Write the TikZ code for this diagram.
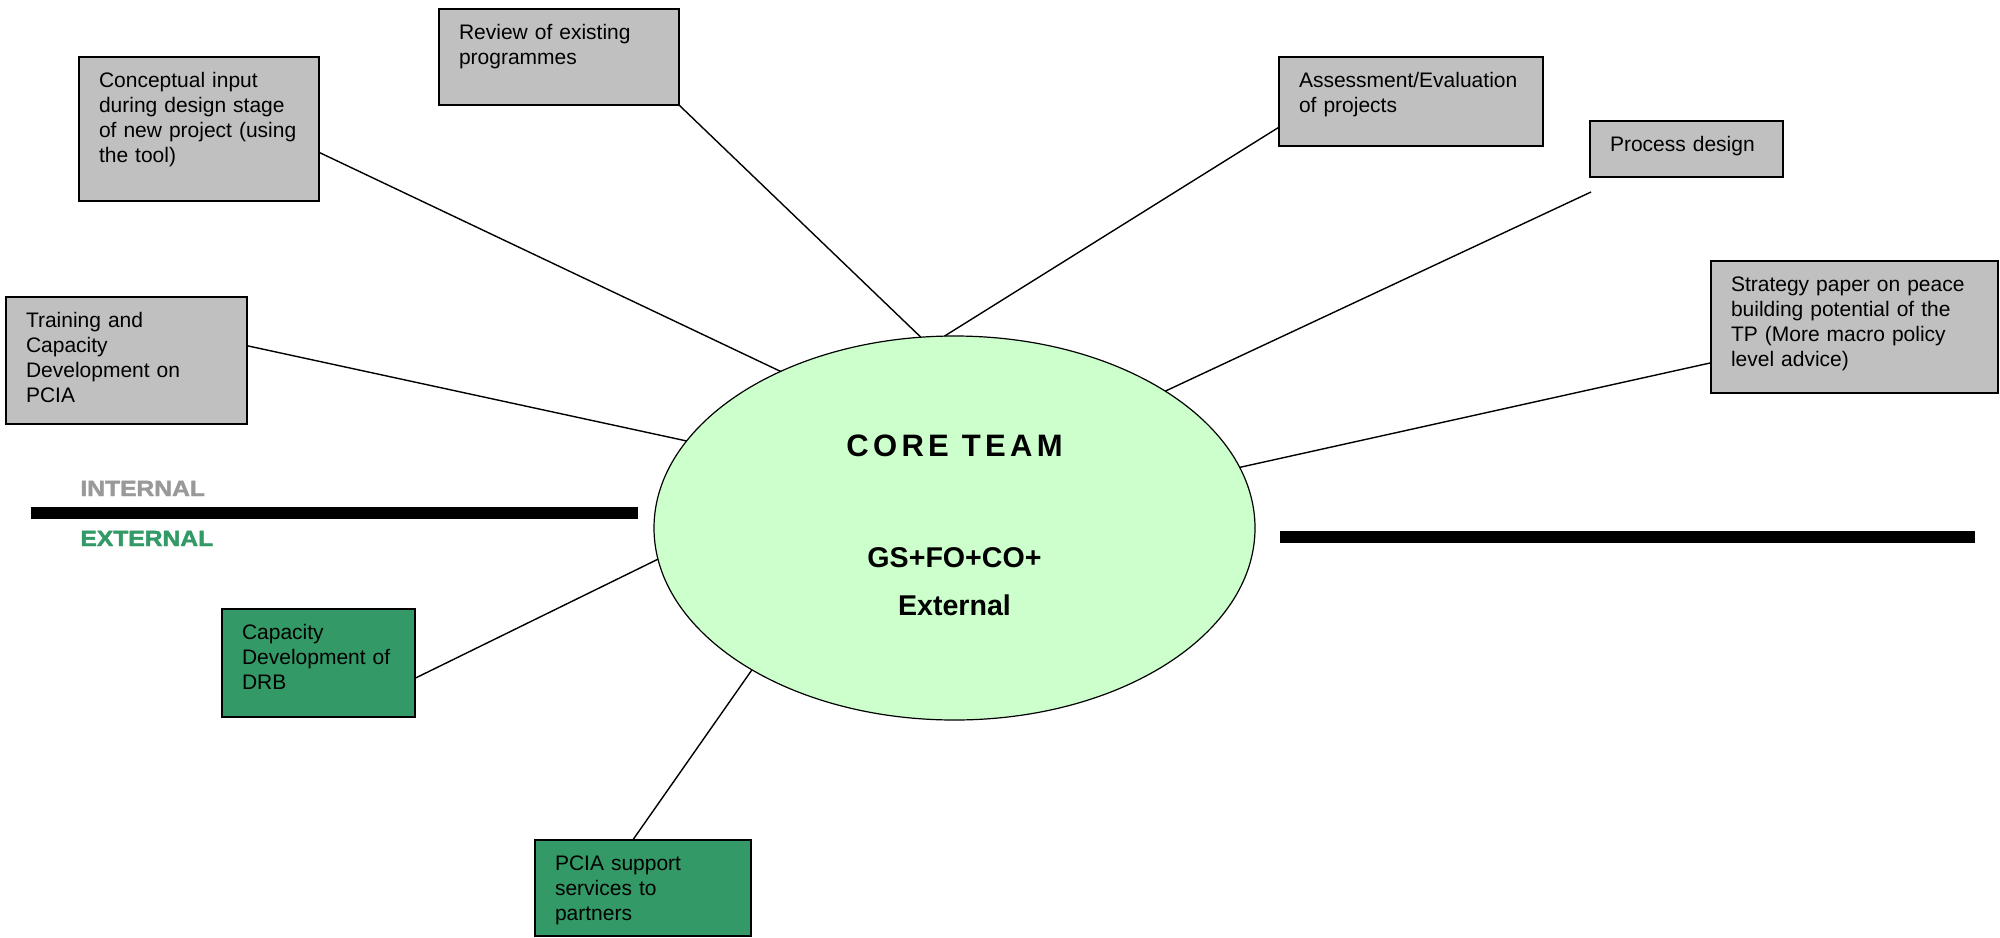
\documentclass[tikz,border=0pt]{standalone}
\usepackage{fontspec}
\setmainfont{Liberation Sans}
\newfontfamily\spacedfont[LetterSpace=14]{Liberation Sans}
\newfontfamily\widefont[FakeStretch=1.12, FakeBold=2]{Liberation Sans}
\usepackage{xcolor}
\usepackage{tikz}
\usetikzlibrary{shapes.geometric}
\definecolor{boxgray}{HTML}{C0C0C0}
\definecolor{teamgreen}{HTML}{339966}
\definecolor{corefill}{HTML}{CCFFCC}
\definecolor{intgray}{HTML}{999999}

\begin{document}
\begin{tikzpicture}[x=0.5pt, y=-0.5pt,
		task/.style={draw, line width=0.9pt, fill=boxgray, anchor=north west, outer sep=0pt,
			inner xsep=10pt, inner ysep=7.5pt, align=left, text height=7.75pt,
			font=\fontsize{10.5}{12.5}\selectfont},
		outreach/.style={task, fill=teamgreen},
		link/.style={line width=0.7pt},
		divider/.style={line width=6pt}]
		\useasboundingbox (0,0) rectangle (2000,937);

		% core team
		\node[ellipse, draw, line width=0.6pt, fill=corefill, minimum width=300.5pt, minimum height=192pt, inner sep=0pt, outer sep=0pt] (core) at (954.5,528) {};
		\node[anchor=base, font=\fontsize{15.5}{18}\spacedfont\bfseries] (coretitle) at (954.5,456) {CORE TEAM};
		\node[anchor=base, font=\fontsize{14.3}{17}\selectfont\bfseries] (coremix) at (954.5,567) {GS+FO+CO+};
		\node[anchor=base, font=\fontsize{14.3}{17}\selectfont\bfseries] (coreext) at (954.5,615) {External};

		% internal tasks
		\node[task, text width=100pt, text depth=25.25pt] (review) at (439,9) {Review of existing\\programmes};
		\node[task, text width=100pt, text depth=49.25pt] (concept) at (79,57) {Conceptual input\\during design stage\\of new project (using\\the tool)};
		\node[task, text width=100.5pt, text depth=40.75pt] (training) at (6,297) {Training and\\Capacity\\Development on\\PCIA};
		\node[task, text width=112pt, text depth=21.75pt] (assess) at (1279,57) {Assessment/Evaluation\\of projects};
		\node[task, text width=76.5pt, text depth=5.25pt] (process) at (1590,121) {Process design};
		\node[task, text width=123.5pt, text depth=43.25pt] (strategy) at (1711,261) {Strategy paper on peace\\building potential of the\\TP (More macro policy\\level advice)};

		% external tasks
		\node[outreach, text width=76.5pt, text depth=31.25pt] (drb) at (222,609) {Capacity\\Development of\\DRB};
		\node[outreach, text width=88pt, text depth=25.25pt] (partners) at (535,840) {PCIA support\\services to\\partners};

		% divide
		\node[anchor=base west, inner sep=0pt, text=intgray, font=\fontsize{11}{13}\widefont\bfseries] (internal) at (80,496) {INTERNAL};
		\node[anchor=base west, inner sep=0pt, text=teamgreen, font=\fontsize{11}{13}\widefont\bfseries] (external) at (80,546) {EXTERNAL};
		\draw[divider] (31,513) -- (638,513);
		\draw[divider] (1280,537) -- (1975,537);

		% links
		\coordinate (processfoot) at (1591,192);
		\draw[link] (review.south east) -- (core.100.7);
		\draw[link] (assess.191.4) -- (core.93.9);
		\draw[link] (concept.-11.3) -- (core.138.3);
		\draw[link] (training.7.3) -- (core.162.4);
		\draw[link] (processfoot) -- (core.33.6);
		\draw[link] (strategy.194.5) -- (core.12.8);
		\draw[link] (drb.-9.9) -- (core.186.3);
		\draw[link] (partners.102.9) -- (core.215.5);
	\end{tikzpicture}
\end{document}
